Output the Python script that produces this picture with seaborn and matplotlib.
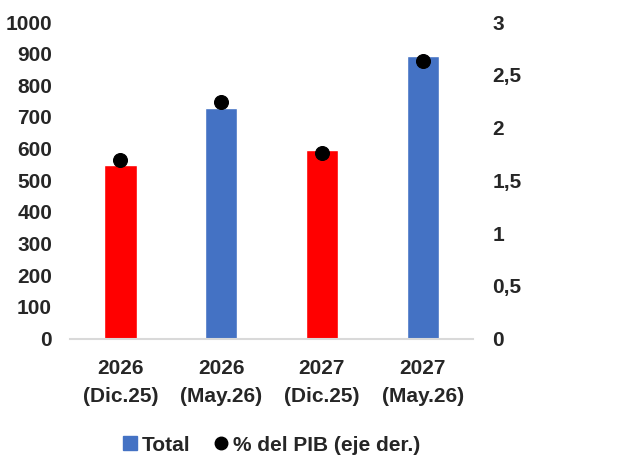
import pandas as pd
import matplotlib.pyplot as plt
import seaborn as sns
from matplotlib.lines import Line2D

# Datos
categorias = ["2026\n(Dic.25)", "2026\n(May.26)", "2027\n(Dic.25)", "2027\n(May.26)"]
total = [547, 727, 597, 892]
pct_pib = [1.69, 2.24, 1.76, 2.63]
serie = ["Dic", "May", "Dic", "May"]

df = pd.DataFrame({"cat": categorias, "total": total, "pct": pct_pib, "serie": serie})

sns.set_style("white")
plt.rcParams["font.family"] = ["Liberation Sans", "DejaVu Sans"]
plt.rcParams["font.weight"] = "bold"

fig = plt.figure(figsize=(6.2, 4.59), dpi=100)
ax = fig.add_axes([0.113, 0.2625, 0.65, 0.6895])

sns.barplot(data=df, x="cat", y="total", hue="serie",
            palette={"Dic": "#FF0000", "May": "#4472C4"},
            width=0.32, dodge=False, legend=False, ax=ax, saturation=1)

ax.set_ylim(0, 1000)
ax.set_xlim(-0.5, 3.5)
ax.set_yticks(range(0, 1001, 100))
ax.set_xlabel("")
ax.set_ylabel("")
ax.tick_params(axis="y", labelsize=15, length=0, pad=13)
ax.tick_params(axis="x", length=0, labelbottom=False)
for lab in ax.get_yticklabels():
    lab.set_fontweight("bold")

# etiquetas de categoria en dos lineas, con mas interlineado
for i, c in enumerate(categorias):
    ax.text(i, -0.066, c, transform=ax.get_xaxis_transform(), ha="center",
            va="top", fontsize=15, fontweight="bold", linespacing=1.6)

for s in ["top", "right", "left"]:
    ax.spines[s].set_visible(False)
ax.spines["bottom"].set_color("#d9d9d9")
ax.spines["bottom"].set_linewidth(1.5)

ax2 = ax.twinx()
sns.scatterplot(data=df, x="cat", y="pct", color="black", s=100,
                edgecolor="black", ax=ax2, zorder=5)
ax2.set_ylim(0, 3)
ax2.set_yticks([0, 0.5, 1, 1.5, 2, 2.5, 3])
ax2.set_yticklabels(["0", "0,5", "1", "1,5", "2", "2,5", "3"])
ax2.set_ylabel("")
ax2.tick_params(axis="y", labelsize=15, length=0, pad=14)
for lab in ax2.get_yticklabels():
    lab.set_fontweight("bold")
for s in ax2.spines.values():
    s.set_visible(False)

handles = [
    Line2D([], [], marker="s", linestyle="none", color="#4472C4", markersize=10),
    Line2D([], [], marker="o", linestyle="none", color="black", markersize=9),
]
fig.legend(handles, ["Total", "% del PIB (eje der.)"], loc="center",
           bbox_to_anchor=(0.435, 0.03), ncol=2, frameon=False,
           prop={"size": 15, "weight": "bold"}, handletextpad=0.05,
           columnspacing=1.0, handlelength=1.0)

fig.savefig("out.png", dpi=100)
